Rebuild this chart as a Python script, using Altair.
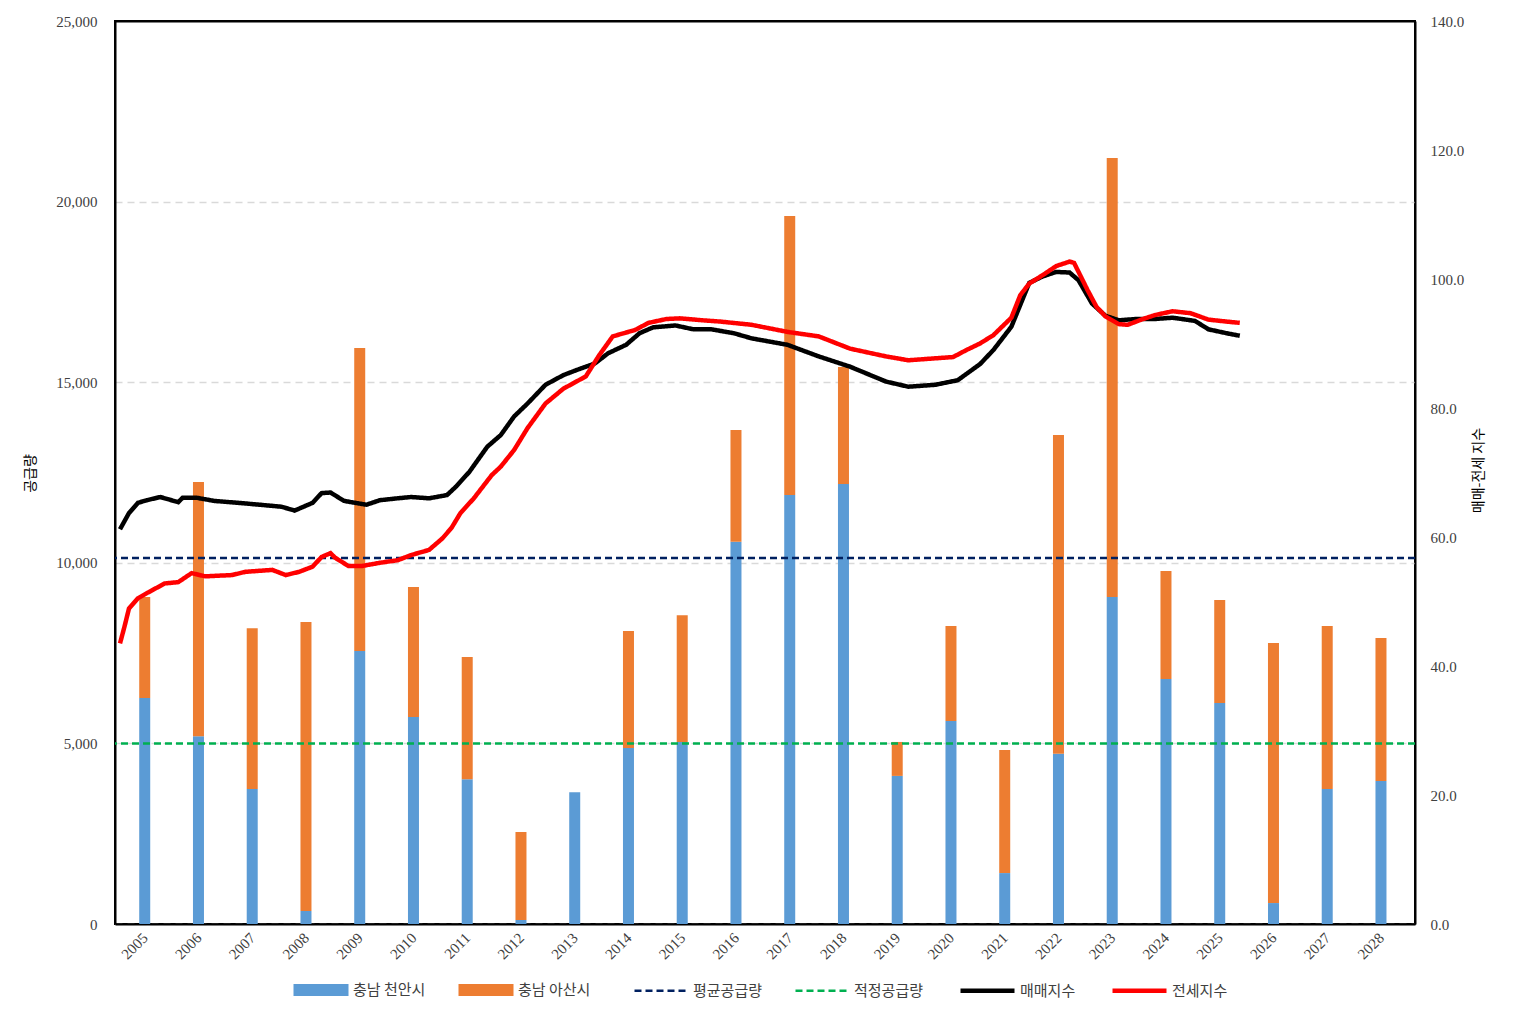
import altair as alt
import pandas as pd

# ---------------- data ----------------
years = list(range(2005, 2029))
cheonan = [6260, 5200, 3740, 360, 7560, 5730, 4010, 110, 3650, 4870, 5040, 10580,
           11880, 12180, 4100, 5620, 1410, 4710, 9050, 6780, 6120, 580, 3740, 3960]
asan = [2790, 7040, 4450, 8000, 8390, 3600, 3380, 2440, 0, 3240, 3510, 3100,
        7720, 3240, 940, 2630, 3410, 8830, 12160, 2990, 2850, 7200, 4510, 3960]
region_names = ["충남 천안시", "충남 아산시"]
region_colors = ["#5B9BD5", "#ED7D31"]

avg_supply = 10130
proper_supply = 5000

# months counted from 2005-01
sale_month = [0, 2, 4, 6, 9, 13, 14, 17, 21, 28, 36, 39, 43, 45, 47, 50, 55, 58, 62, 65,
              69, 73, 75, 78, 82, 85, 88, 91, 95, 99, 102, 106, 109, 113, 116, 119, 124,
              128, 132, 137, 141, 149, 156, 163, 171, 176, 182, 187, 192, 195, 197, 199,
              201, 203, 206, 209, 212, 214, 217, 220, 223, 227, 231, 235, 240, 243, 247, 250]
sale_index = [61.2, 63.7, 65.3, 65.7, 66.2, 65.4, 66.1, 66.1, 65.6, 65.2, 64.7, 64.1, 65.3,
              66.8, 66.9, 65.6, 65.0, 65.7, 66.0, 66.2, 66.0, 66.5, 67.8, 70.1, 74.0, 75.8,
              78.7, 80.7, 83.6, 85.1, 85.9, 86.9, 88.5, 89.8, 91.6, 92.5, 92.8, 92.2, 92.2,
              91.6, 90.8, 89.8, 88.0, 86.4, 84.1, 83.3, 83.6, 84.3, 86.8, 89.0, 90.8, 92.6,
              96.0, 99.4, 100.4, 101.1, 101.0, 99.8, 96.2, 94.3, 93.6, 93.8, 93.8, 94.0,
              93.5, 92.2, 91.6, 91.2]
jeonse_month = [0, 1, 2, 4, 6, 10, 13, 16, 19, 25, 28, 34, 37, 40, 43, 45, 47, 48, 51, 54,
                58, 62, 65, 69, 72, 74, 76, 79, 83, 85, 88, 91, 95, 99, 104, 107, 110, 115,
                118, 122, 125, 130, 134, 141, 149, 156, 163, 171, 176, 186, 189, 192, 195,
                199, 201, 203, 206, 209, 212, 213, 214, 216, 218, 220, 223, 225, 228, 231,
                235, 239, 243, 247, 250]
jeonse_index = [43.5, 46.1, 48.9, 50.5, 51.3, 52.8, 53.0, 54.4, 53.9, 54.1, 54.6, 54.9, 54.1,
                54.6, 55.4, 56.9, 57.5, 56.8, 55.5, 55.5, 56.0, 56.4, 57.2, 58.0, 59.8, 61.4,
                63.7, 66.0, 69.6, 70.9, 73.5, 76.9, 80.7, 83.0, 84.9, 88.2, 91.1, 92.1, 93.2,
                93.8, 93.9, 93.6, 93.4, 92.9, 91.8, 91.1, 89.2, 88.0, 87.4, 87.9, 89.0, 90.0,
                91.3, 94.0, 97.5, 99.3, 100.6, 102.0, 102.7, 102.5, 101.1, 98.3, 95.7, 94.2,
                93.0, 92.9, 93.7, 94.4, 95.0, 94.7, 93.7, 93.4, 93.2]

series_names = ["평균공급량", "적정공급량", "매매지수", "전세지수"]
series_colors = ["#002060", "#00B050", "#000000", "#FF0000"]
series_dash = [[7, 4], [7, 4], [1, 0], [1, 0]]
series_width = [2.5, 2.5, 4.5, 4.5]

# ---------------- tables ----------------
BAR_OFFSET = 0.46  # bars sit slightly left of the middle of each year slot
bar_rows = []
for i, yr in enumerate(years):
    bar_rows.append({"xpos": yr + BAR_OFFSET, "supply": cheonan[i], "region": region_names[0], "ord": 0})
    bar_rows.append({"xpos": yr + BAR_OFFSET, "supply": asan[i], "region": region_names[1], "ord": 1})
bar_df = pd.DataFrame(bar_rows)

rule_df = pd.DataFrame({"supply": [avg_supply, proper_supply], "series": series_names[:2]})

line_rows = []
for m, v in zip(sale_month, sale_index):
    line_rows.append({"t": 2005 + m / 12, "value": v, "series": series_names[2]})
for m, v in zip(jeonse_month, jeonse_index):
    line_rows.append({"t": 2005 + m / 12, "value": v, "series": series_names[3]})
line_df = pd.DataFrame(line_rows)

SERIF = "Liberation Serif"
KR = "Noto Sans CJK KR"

x_scale = alt.Scale(domain=[2005, 2029], nice=False, zero=False)
x_axis = alt.Axis(values=[y + BAR_OFFSET for y in years], labelExpr="toString(floor(datum.value))",
                  labelAngle=-45, labelAlign="right", labelBaseline="middle", labelPadding=11,
                  ticks=False, grid=False, title=None, labelFont=SERIF, labelFontSize=15,
                  labelColor="#404040", domainColor="black", domainWidth=2)
y_scale = alt.Scale(domain=[0, 25000], nice=False)
top_test = "datum.value >= 25000"
y_axis = alt.Axis(values=[0, 5000, 10000, 15000, 20000, 25000],
                  labelExpr="format(datum.value, ',')", ticks=False,
                  labelPadding=18, grid=True,
                  gridColor={"condition": {"test": top_test, "value": "black"}, "value": "#D9D9D9"},
                  gridDash={"condition": {"test": top_test, "value": []}, "value": [7, 5]},
                  gridWidth={"condition": {"test": top_test, "value": 2}, "value": 1.5},
                  title="공급량", titleFont=KR, titleFontSize=14,
                  titleFontWeight="normal", titleColor="#000000", titleX=-78, titleY=452,
                  titleAngle=270, labelFont=SERIF, labelFontSize=15, labelColor="#404040",
                  domainColor="black", domainWidth=2)


def line_legend():
    return alt.Legend(orient="none", legendX=518, legendY=940, direction="horizontal",
                      symbolType="stroke", symbolSize=2916, title=None, columnPadding=27,
                      labelOffset=3)


stroke_enc = alt.Stroke("series:N", scale=alt.Scale(domain=series_names, range=series_colors),
                        legend=line_legend())
dash_enc = alt.StrokeDash("series:N",
                          scale=alt.Scale(type="ordinal", domain=series_names, range=series_dash),
                          legend=line_legend())
width_enc = alt.StrokeWidth("series:N",
                            scale=alt.Scale(type="ordinal", domain=series_names, range=series_width),
                            legend=line_legend())

bars = alt.Chart(bar_df).mark_bar(size=11).encode(
    x=alt.X("xpos:Q", scale=x_scale, axis=x_axis, title=None),
    y=alt.Y("supply:Q", stack="zero", scale=y_scale, axis=y_axis),
    fill=alt.Fill("region:N", scale=alt.Scale(domain=region_names, range=region_colors),
                  legend=alt.Legend(orient="none", legendX=177, legendY=940,
                                    direction="horizontal",
                                    symbolType="M-1,-0.22H1V0.22H-1Z", symbolSize=3025,
                                    title=None, columnPadding=31, labelOffset=3)),
    order=alt.Order("ord:Q"),
)

rules = alt.Chart(rule_df).mark_rule().encode(
    y=alt.Y("supply:Q", scale=y_scale, axis=y_axis),
    stroke=stroke_enc,
    strokeDash=dash_enc,
    strokeWidth=width_enc,
)

lines = alt.Chart(line_df).mark_line().encode(
    x=alt.X("t:Q", scale=x_scale, axis=x_axis, title=None),
    y=alt.Y("value:Q", scale=alt.Scale(domain=[0, 140], nice=False),
            axis=alt.Axis(orient="right", values=list(range(0, 141, 20)), format=".1f",
                          ticks=False, grid=False, labelPadding=15, title="매매-전세 지수",
                          titleFont=KR, titleFontSize=14, titleFontWeight="normal",
                          titleColor="#000000", titleAngle=270, titleX=70, titleY=449,
                          labelFont=SERIF, labelFontSize=15, labelColor="#404040",
                          domainColor="black", domainWidth=2)),
    stroke=stroke_enc,
    strokeDash=dash_enc,
    strokeWidth=width_enc,
    detail="series:N",
)

chart = alt.layer(alt.layer(bars, rules), lines).resolve_scale(y="independent").properties(
    width=1300, height=903, background="white",
    padding={"left": 15, "top": 6, "right": 10, "bottom": 5},
).configure_view(stroke="black", strokeWidth=2).configure_legend(
    labelFont=KR, labelFontSize=15, labelColor="#404040", symbolStrokeWidth=2.5
)

chart.save("out.html", embed_options={"renderer": "svg", "actions": False})
